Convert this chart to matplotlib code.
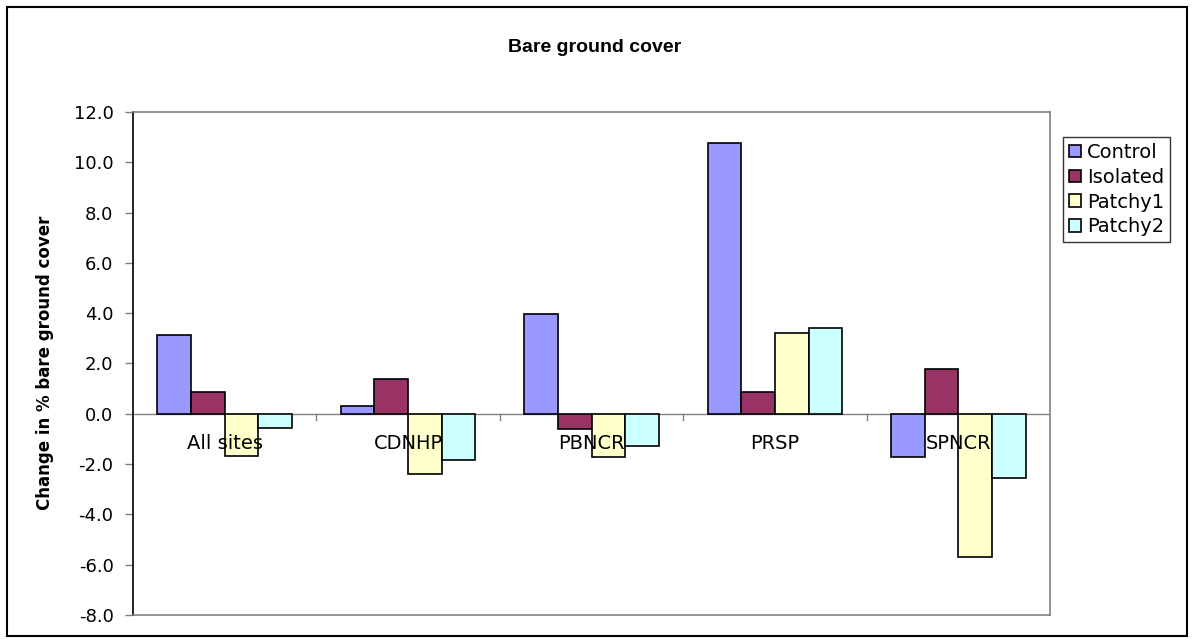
import matplotlib
matplotlib.use("Agg")
import matplotlib.pyplot as plt
import numpy as np
from matplotlib.patches import Rectangle

plt.rcParams['font.family'] = ['DejaVu Sans']

sites = ["All sites", "CDNHP", "PBNCR", "PRSP", "SPNCR"]
series_names = ["Control", "Isolated", "Patchy1", "Patchy2"]
control = [3.15, 0.31, 3.95, 10.75, -1.70]
isolated = [0.88, 1.38, -0.62, 0.86, 1.77]
patchy1 = [-1.67, -2.40, -1.72, 3.22, -5.70]
patchy2 = [-0.55, -1.85, -1.28, 3.42, -2.55]
colors = ["#9999FF", "#993366", "#FFFFCC", "#CCFFFF"]
yticks = [12.0, 10.0, 8.0, 6.0, 4.0, 2.0, 0.0, -2.0, -4.0, -6.0, -8.0]

W, H = 1194, 643
fig = plt.figure(figsize=(W / 100, H / 100), dpi=100)
ax = fig.add_axes([133 / W, 1 - 615 / H, (1050 - 133) / W, (615 - 112) / H])

# outer chart frame
fig.patches.append(Rectangle((7 / W, 7 / H), 1180 / W, 629 / H, transform=fig.transFigure,
                             fill=False, edgecolor="black", linewidth=1.5))

x = np.arange(len(sites))
bw = 1 / 5.45
data = [control, isolated, patchy1, patchy2]
handles = []
for i, (vals, c, name) in enumerate(zip(data, colors, series_names)):
    h = ax.bar(x + (i - 1.5) * bw, vals, width=bw, color=c, edgecolor="black",
               linewidth=1.2, label=name, zorder=3)
    handles.append(h)

ax.set_xlim(-0.5, len(sites) - 0.5)
ax.set_ylim(-8, 12)
ax.set_yticks(yticks)
ax.set_yticklabels([f"{v:.1f}" for v in yticks], fontsize=13)
ax.tick_params(axis='y', direction='out', length=6, width=1, color="#808080", pad=8)

# category axis running along zero
ax.axhline(0, color="#808080", linewidth=1, zorder=2)
ax.set_xticks([])
for b in np.arange(0.5, len(sites) - 0.5, 1.0):
    ax.plot([b, b], [0, -0.25], color="#808080", linewidth=1, zorder=2)
for xi, s in zip(x, sites):
    ax.text(xi, -0.8, s, ha="center", va="top", fontsize=14, zorder=4)

for side in ["top", "right", "bottom"]:
    ax.spines[side].set_color("#808080")
    ax.spines[side].set_linewidth(1.2)
ax.spines["left"].set_color("black")
ax.spines["left"].set_linewidth(1.2)

fig.text(45 / W, 1 - 363 / H, "Change in % bare ground cover", rotation=90,
         ha="center", va="center", fontsize=12, fontweight="bold")
fig.text(595 / W, 1 - 48 / H, "Bare ground cover", ha="center", va="center",
         fontsize=14, fontweight="bold", family=["Liberation Sans", "DejaVu Sans"])

leg = fig.legend(handles=handles, labels=series_names, loc="upper left",
                 bbox_to_anchor=(1063 / W, 1 - 137 / H), fontsize=14, frameon=True,
                 fancybox=False, edgecolor="black", handlelength=0.6, handleheight=0.6,
                 handletextpad=0.35, borderpad=0.3, labelspacing=0.3, borderaxespad=0)
leg.get_frame().set_linewidth(1.0)

fig.savefig("out.png", dpi=100)
